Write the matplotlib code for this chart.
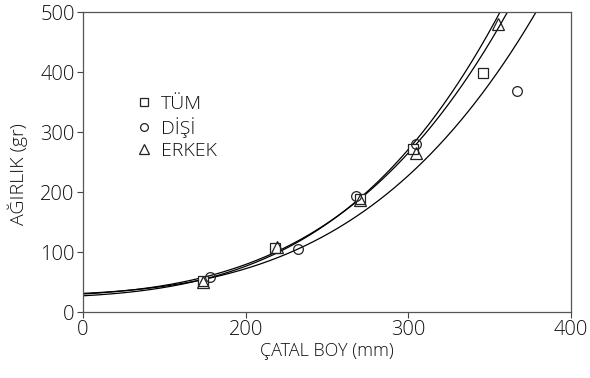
import numpy as np
import matplotlib
matplotlib.use("Agg")
import matplotlib.pyplot as plt

plt.rcParams['font.family'] = ['Open Sans', 'DejaVu Sans']
plt.rcParams['font.weight'] = 'light'
plt.rcParams['axes.labelweight'] = 'light'

# olcum noktalari (catal boy mm, agirlik gr)
tum_x = [174, 218, 270, 303, 346]
tum_y = [52, 107, 188, 271, 398]

disi_x = [178, 232, 268, 305, 367]
disi_y = [58, 105, 193, 280, 368]

erkek_x = [174, 219, 270, 305, 355]
erkek_y = [50, 108, 187, 265, 480]

# W = c + k * (L/100)^p egrileri (c, k, p)
erkek_fit = (23.2, 3.81, 3.8)
tum_fit = (25.9, 4.105, 3.7)
disi_fit = (27.6, 3.43, 3.7)

x_ticks = [100, 200, 300, 400]
x_labels = ['0', '200', '300', '400']
y_ticks = [0, 100, 200, 300, 400, 500]

fig = plt.figure(figsize=(5.9, 3.78), dpi=100)
ax = fig.add_axes([0.1407, 0.1746, 0.827, 0.7935])

L = np.linspace(100, 400, 400)
for c, k, p in [erkek_fit, tum_fit, disi_fit]:
    ax.plot(L, c + k * (L / 100.0) ** p, color='black', lw=0.9)

ax.plot(tum_x, tum_y, 's', mfc='white', mec='#222222', ms=7, mew=0.9, label='TÜM')
ax.plot(disi_x, disi_y, 'o', mfc='none', mec='#222222', ms=7, mew=0.9, label='DİŞİ')
ax.plot(erkek_x, erkek_y, '^', mfc='none', mec='#222222', ms=8.5, mew=0.9, label='ERKEK')

ax.set_xlim(100, 400)
ax.set_ylim(0, 500)
ax.set_xticks(x_ticks)
ax.set_xticklabels(x_labels)
ax.set_yticks(y_ticks)

ax.tick_params(direction='out', length=4, width=0.8, color='#444444',
               labelsize=14.5, labelcolor='#111111', pad=2)
for s in ax.spines.values():
    s.set_color('#555555')
    s.set_linewidth(0.9)

ax.set_xlabel('ÇATAL BOY (mm)', fontsize=13, color='#111111', labelpad=1)
ax.set_ylabel('AĞIRLIK (gr)', fontsize=14, color='#111111')
ax.yaxis.set_label_coords(-0.112, 0.46)

leg = ax.legend(loc='upper left', bbox_to_anchor=(0.09, 0.755), frameon=False,
                prop={'size': 14, 'weight': 'light'}, handlelength=0.8,
                handletextpad=0.45, labelspacing=0.2, borderpad=0, markerscale=0.8)
for t in leg.get_texts():
    t.set_color('#111111')

fig.savefig('out.png', dpi=100)
